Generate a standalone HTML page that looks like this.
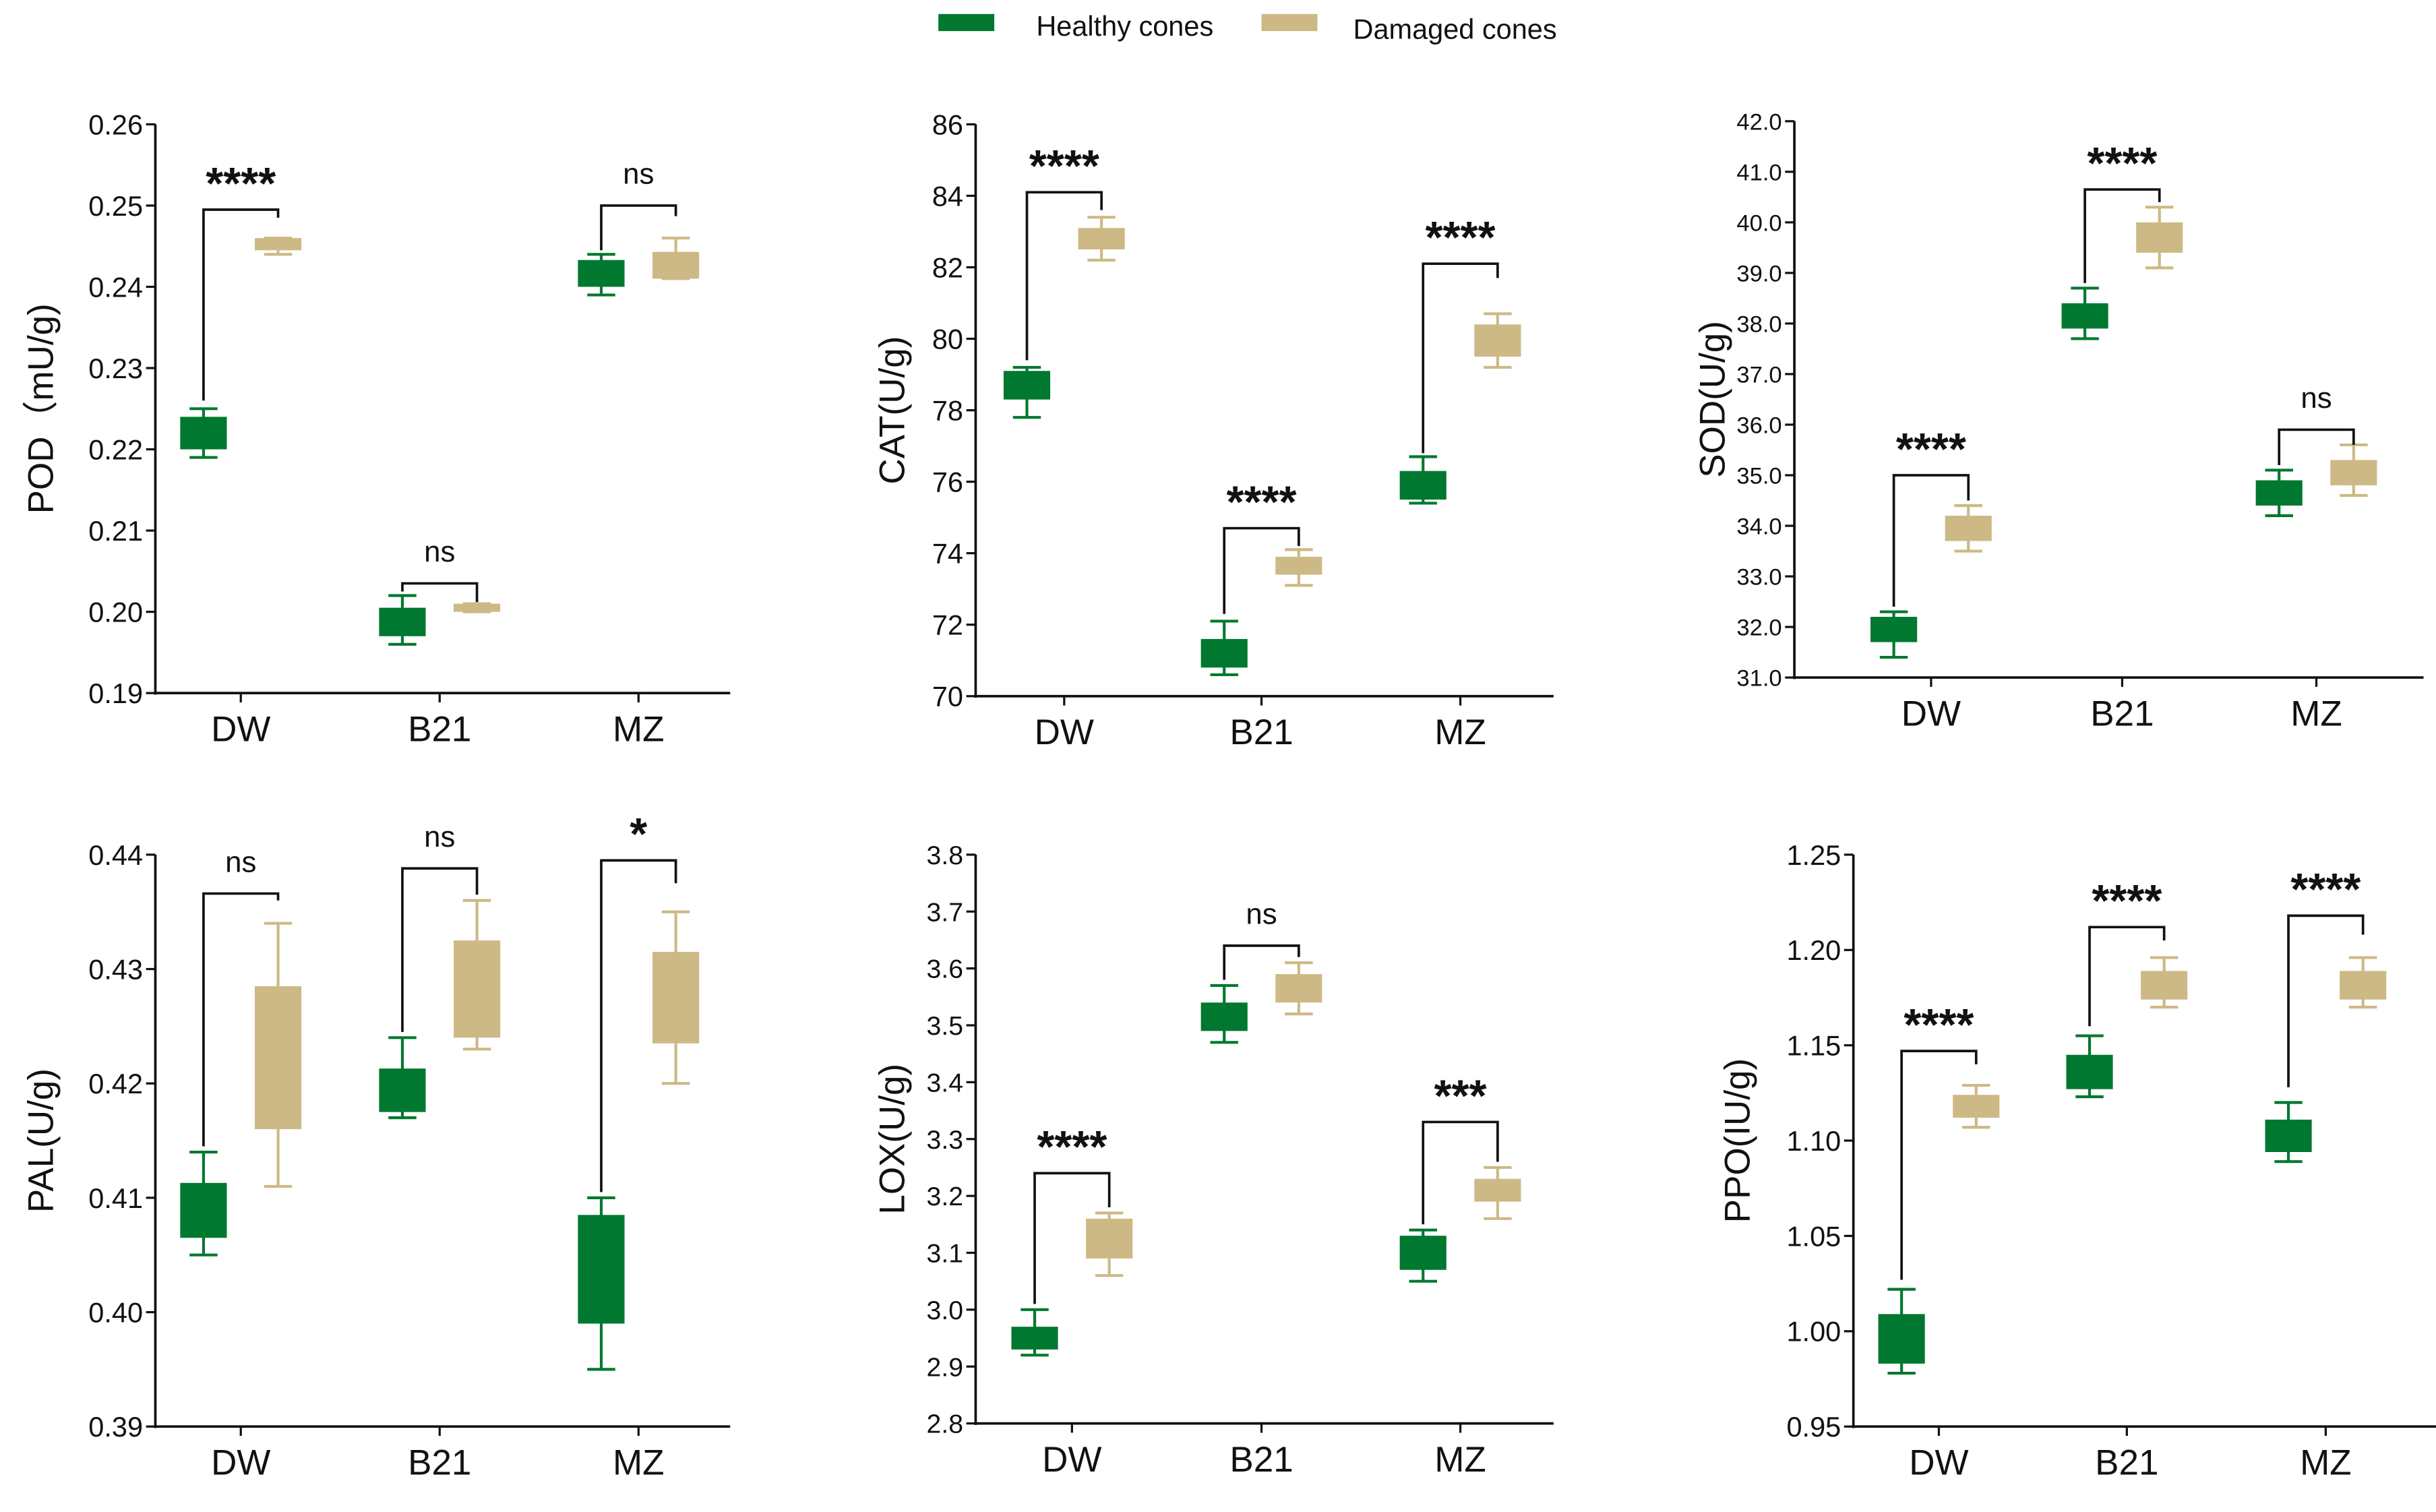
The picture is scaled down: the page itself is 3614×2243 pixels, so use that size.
<!DOCTYPE html>
<html><head><meta charset="utf-8"><style>
html,body{margin:0;padding:0;background:#fff;}
svg{display:block;font-family:"Liberation Sans",Arial,sans-serif;}
</style></head><body>
<svg id="chart" width="3614" height="2243" viewBox="0 0 1568 973" preserveAspectRatio="none" xmlns="http://www.w3.org/2000/svg">
<g>
<rect x="604" y="9" width="36" height="11" fill="#00782f"/>
<text x="667" y="23" font-size="18" fill="#111">Healthy cones</text>
<rect x="812" y="9" width="36" height="11" fill="#cdb985"/>
<text x="871" y="25" font-size="18" fill="#111">Damaged cones</text>
</g>
</svg>
<script>
const categories = ["DW","B21","MZ"];
// [min, q1, q3, max]
const podHealthy = [[0.219,0.220,0.224,0.225],[0.196,0.197,0.2005,0.202],[0.239,0.240,0.2433,0.244]];
const podDamaged = [[0.244,0.2445,0.246,0.246],[0.200,0.200,0.201,0.201],[0.241,0.241,0.2443,0.246]];
const podSig = ["****","ns","ns"];
const podBracket = [[0.2495,0.226,0.2485],[0.2035,0.2025,0.2012],[0.2500,0.2445,0.2487]];
const catHealthy = [[77.8,78.3,79.1,79.2],[70.6,70.8,71.6,72.1],[75.4,75.5,76.3,76.7]];
const catDamaged = [[82.2,82.5,83.1,83.4],[73.1,73.4,73.9,74.1],[79.2,79.5,80.4,80.7]];
const catSig = ["****","****","****"];
const catBracket = [[84.1,79.4,83.6],[74.7,72.3,74.2],[82.1,76.8,81.7]];
const sodHealthy = [[31.4,31.7,32.2,32.3],[37.7,37.9,38.4,38.7],[34.2,34.4,34.9,35.1]];
const sodDamaged = [[33.5,33.7,34.2,34.4],[39.1,39.4,40.0,40.3],[34.6,34.8,35.3,35.6]];
const sodSig = ["****","****","ns"];
const sodBracket = [[35.0,32.4,34.5],[40.65,38.8,40.4],[35.9,35.2,35.6]];
const palHealthy = [[0.405,0.4065,0.4113,0.414],[0.417,0.4175,0.4213,0.424],[0.395,0.399,0.4085,0.410]];
const palDamaged = [[0.411,0.416,0.4285,0.434],[0.423,0.424,0.4325,0.436],[0.420,0.4235,0.4315,0.435]];
const palSig = ["ns","ns","*"];
const palBracket = [[0.4366,0.4145,0.436],[0.4388,0.4245,0.4365],[0.4395,0.4105,0.4375]];
const loxHealthy = [[2.92,2.93,2.97,3.00],[3.47,3.49,3.54,3.57],[3.05,3.07,3.13,3.14]];
const loxDamaged = [[3.06,3.09,3.16,3.17],[3.52,3.54,3.59,3.61],[3.16,3.19,3.23,3.25]];
const loxSig = ["****","ns","***"];
const loxBracket = [[3.24,3.01,3.18],[3.64,3.58,3.62],[3.33,3.15,3.26]];
const ppoHealthy = [[0.978,0.983,1.009,1.022],[1.123,1.127,1.145,1.155],[1.089,1.094,1.111,1.120]];
const ppoDamaged = [[1.107,1.112,1.124,1.129],[1.170,1.174,1.189,1.196],[1.170,1.174,1.189,1.196]];
const ppoSig = ["****","****","****"];
const ppoBracket = [[1.147,1.027,1.140],[1.212,1.160,1.205],[1.218,1.128,1.208]];
const podTicks = ["0.19","0.20","0.21","0.22","0.23","0.24","0.25","0.26"];
const catTicks = ["70","72","74","76","78","80","82","84","86"];
const sodTicks = ["31.0","32.0","33.0","34.0","35.0","36.0","37.0","38.0","39.0","40.0","41.0","42.0"];
const palTicks = ["0.39","0.40","0.41","0.42","0.43","0.44"];
const loxTicks = ["2.8","2.9","3.0","3.1","3.2","3.3","3.4","3.5","3.6","3.7","3.8"];
const ppoTicks = ["0.95","1.00","1.05","1.10","1.15","1.20","1.25"];

const NS="http://www.w3.org/2000/svg";
const svg=document.getElementById('chart');
function mk(tag,attrs,parent){const e=document.createElementNS(NS,tag);for(const k in attrs)e.setAttribute(k,attrs[k]);parent.appendChild(e);return e;}
const GREEN="#00782f",TAN="#cdb985";

const panels=[
 {id:"pod",label:"POD（mU/g)",ax:100,top:80,bot:446,xend:470,cx:[155,283,411],lx:18,tf:18,ticks:podTicks,h:podHealthy,d:podDamaged,sig:podSig,br:podBracket},
 {id:"cat",label:"CAT(U/g)",ax:628,top:80,bot:448,xend:1000,cx:[685,812,940],lx:566,tf:18,ticks:catTicks,h:catHealthy,d:catDamaged,sig:catSig,br:catBracket},
 {id:"sod",label:"SOD(U/g)",ax:1155,top:78,bot:436,xend:1560,cx:[1243,1366,1491],lx:1094,tf:15,ticks:sodTicks,h:sodHealthy,d:sodDamaged,sig:sodSig,br:sodBracket},
 {id:"pal",label:"PAL(U/g)",ax:100,top:550,bot:918,xend:470,cx:[155,283,411],lx:18,tf:18,ticks:palTicks,h:palHealthy,d:palDamaged,sig:palSig,br:palBracket},
 {id:"lox",label:"LOX(U/g)",ax:628,top:550,bot:916,xend:1000,cx:[690,812,940],lx:566,tf:17,ticks:loxTicks,h:loxHealthy,d:loxDamaged,sig:loxSig,br:loxBracket},
 {id:"ppo",label:"PPO(IU/g)",ax:1193,top:550,bot:918,xend:1568,cx:[1248,1369,1497],lx:1110,tf:18,ticks:ppoTicks,h:ppoHealthy,d:ppoDamaged,sig:ppoSig,br:ppoBracket}
];

panels.forEach(p=>{
 const g=mk('g',{},svg);
 
 
 const t0=parseFloat(p.ticks[0]),t1=parseFloat(p.ticks[p.ticks.length-1]);
 const y=v=>p.bot-(v-t0)/(t1-t0)*(p.bot-p.top);
 const ya=mk('line',{x1:p.ax,y1:p.top,x2:p.ax,y2:p.bot+1,stroke:"#111","stroke-width":1.6},g);
 
 
 const xa=mk('line',{x1:p.ax-1,y1:p.bot,x2:p.xend,y2:p.bot,stroke:"#111","stroke-width":1.6},g);
 
 
 p.ticks.forEach(tk=>{
  const yy=y(parseFloat(tk));
  mk('line',{x1:p.ax-6,y1:yy,x2:p.ax,y2:yy,stroke:"#111","stroke-width":1.4},g);
  const tx=mk('text',{x:p.ax-8,y:yy+p.tf*0.36,"font-size":p.tf,"text-anchor":"end",fill:"#111"},g);
  tx.textContent=tk;
  
  
 });
 const yl=mk('text',{x:0,y:0,"font-size":23,"text-anchor":"middle",fill:"#111",transform:`translate(${p.lx+16},${(p.top+p.bot)/2}) rotate(-90)`},g);
 yl.textContent=p.label;
 
 
 categories.forEach((c,i)=>{
  const cx=p.cx[i];
  mk('line',{x1:cx,y1:p.bot,x2:cx,y2:p.bot+6,stroke:"#111","stroke-width":1.4},g);
  const ct=mk('text',{x:cx,y:p.bot+31,"font-size":23,"text-anchor":"middle",fill:"#111"},g);
  ct.textContent=c;
  
  
  [[p.h[i],cx-24,GREEN,'healthy'],[p.d[i],cx+24,TAN,'damaged']].forEach(([v,bx,col,nm])=>{
   const bg=mk('g',{},g);
   
   
   mk('line',{x1:bx,y1:y(v[0]),x2:bx,y2:y(v[3]),stroke:col,"stroke-width":1.8},bg);
   mk('line',{x1:bx-9,y1:y(v[0]),x2:bx+9,y2:y(v[0]),stroke:col,"stroke-width":1.8},bg);
   mk('line',{x1:bx-9,y1:y(v[3]),x2:bx+9,y2:y(v[3]),stroke:col,"stroke-width":1.8},bg);
   mk('rect',{x:bx-15,y:y(v[2]),width:30,height:Math.max(y(v[1])-y(v[2]),2),fill:col},bg);
  });
  const b=p.br[i];
  const br=mk('path',{d:`M${cx-24},${y(b[1])} V${y(b[0])} H${cx+24} V${y(b[2])}`,fill:"none",stroke:"#111","stroke-width":1.6},g);
  
  
  const s=p.sig[i];
  const st=mk('text',{x:cx,y:s==="ns"?y(b[0])-14:y(b[0])-7,"font-size":s==="ns"?19:29,"font-weight":s==="ns"?"normal":"bold","text-anchor":"middle",fill:"#111"},g);
  st.textContent=s;
  
  
 });
});
</script>
</body></html>
